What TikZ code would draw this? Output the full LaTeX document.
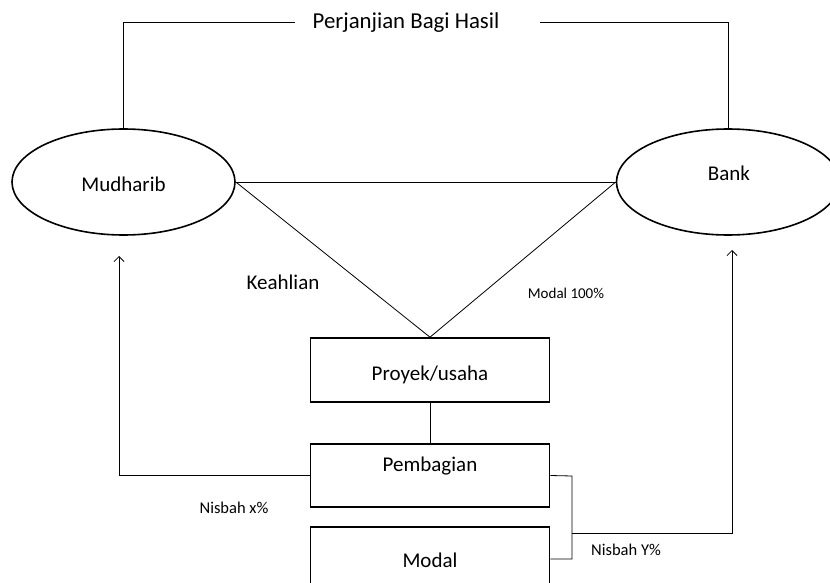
\documentclass[tikz,border=0pt]{standalone}
\usepackage{fontspec}
\setmainfont{Carlito}
\usetikzlibrary{shapes.geometric,arrows.meta}
\begin{document}
\begin{tikzpicture}[x=1pt,y=-1pt,
  shapeline/.style={draw=black,line width=1.6pt},
  oval/.style={shapeline,ellipse,minimum width=223pt,minimum height=106pt,inner sep=0pt},
  boxnode/.style={shapeline,rectangle,minimum width=239pt,minimum height=64pt,inner sep=0pt},
  conn/.style={draw=black,line width=0.8pt},
  arr/.style={conn,-{Straight Barb[length=5pt,width=10pt,line width=0.8pt]}},
  bigtxt/.style={font=\fontsize{21}{24}\selectfont,inner sep=0pt},
  smalltxt/.style={font=\fontsize{15}{18}\selectfont,inner sep=0pt},
  nistxt/.style={font=\fontsize{16.5}{19}\selectfont,inner sep=0pt}]
\useasboundingbox (0,0) rectangle (830,583);
\fill[white] (0,0) rectangle (830,583);
% shapes
\node[oval] (mud) at (123.5,182) {};
\node[oval] (bank) at (728,182) {};
\node[boxnode] (proy) at (430,370) {};
\node[boxnode,minimum height=63pt] (pemb) at (430,475.5) {};
\node[boxnode] (modal) at (430,559) {};
% texts
\node[bigtxt] (tmud) at (123.5,184) {Mudharib};
\node[bigtxt] (tbank) at (729,173) {Bank};
\node[bigtxt] (tproy) at (430,375) {Proyek/usaha};
\node[bigtxt] (tpemb) at (430,466) {Pembagian};
\node[bigtxt] (tmodal) at (430,560) {Modal};
\node[bigtxt,font=\fontsize{22.8}{26}\selectfont] (perj) at (406,23) {Perjanjian Bagi Hasil};
\node[bigtxt] (keah) at (283,282) {Keahlian};
\node[smalltxt] (mod100) at (566,293) {Modal 100\%};
\node[nistxt] (nisx) at (234,508) {Nisbah x\%};
\node[nistxt] (nisy) at (626,550) {Nisbah Y\%};
% coordinates
\coordinate (tl) at (123.5,22);
\coordinate (pl) at (295,22);
\coordinate (pr) at (540,22);
\coordinate (tr) at (728,22);
\coordinate (la) at (119,256);
\coordinate (bx) at (572,476);
\coordinate (bm) at (572,533);
\coordinate (br) at (732,533);
\coordinate (ra) at (732,250);
% connectors
\draw[conn] (mud.north) -- (tl) -- (pl);
\draw[conn] (pr) -- (tr) -- (bank.north);
\draw[conn] (mud.east) -- (bank.west);
\draw[conn] (mud.east) -- (proy.north);
\draw[conn] (bank.west) -- (proy.north);
\draw[conn] (proy.south) -- (pemb.north);
\draw[arr] (pemb.west) -| (la);
\draw[conn] (pemb.east) -- (bx) |- (modal.east);
\draw[arr] (bm) -- (br) -- (ra);
\end{tikzpicture}
\end{document}
